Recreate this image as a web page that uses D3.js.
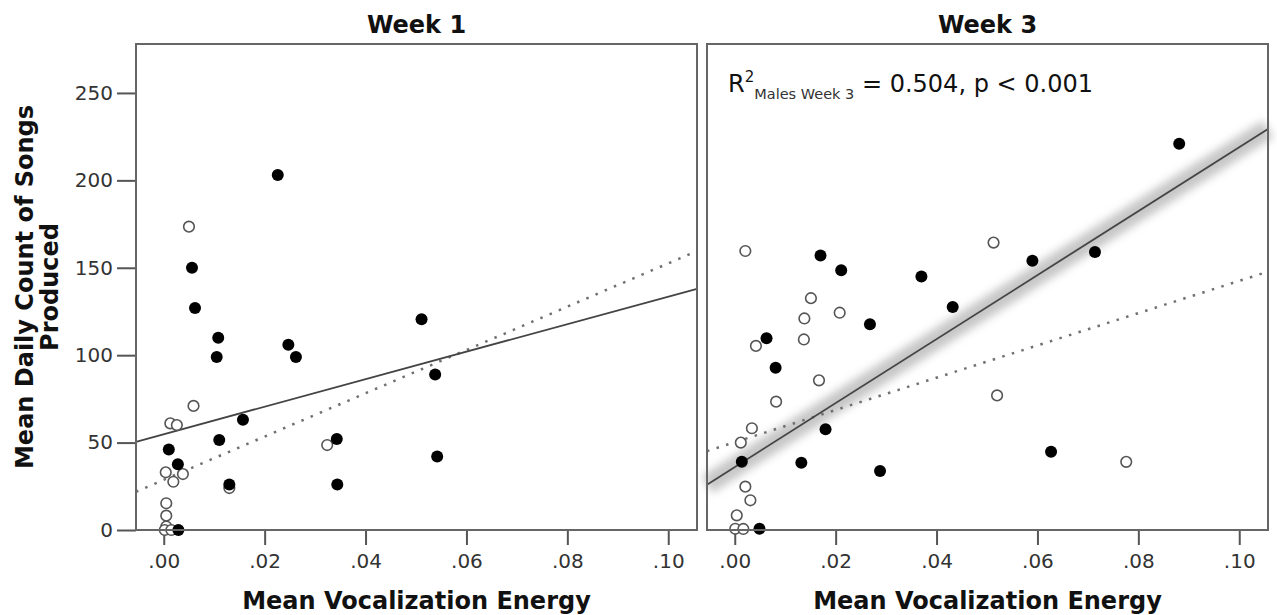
<!DOCTYPE html>
<html>
<head>
<meta charset="utf-8">
<script src="https://cdn.jsdelivr.net/npm/d3@7"></script>
<style>
  body { margin: 0; background: #fff; }
  svg { display: block; }
</style>
</head>
<body>
<svg id="chart" width="1277" height="615"></svg>
<script>
// panel titles
const weeks = ["Week 1", "Week 3"];
const xTicks = [0, 0.02, 0.04, 0.06, 0.08, 0.10];
const yTicks = [0, 50, 100, 150, 200, 250];

// Week 1 males (filled) [energy, songs]
const week1Males = [
  [0.0226, 203], [0.0056, 150], [0.0062, 127], [0.0108, 110], [0.0105, 99],
  [0.0247, 106], [0.0262, 99], [0.0511, 120.5], [0.0538, 89], [0.0542, 42],
  [0.0157, 63], [0.0110, 51.5], [0.0343, 52], [0.0344, 26], [0.0010, 46],
  [0.0028, 37.6], [0.0029, 0], [0.0130, 26]
];
// Week 1 females (open)
const week1Females = [
  [0.0050, 173.5], [0.0059, 71], [0.0013, 61], [0.0026, 60], [0.0004, 33],
  [0.0019, 27.6], [0.0038, 32], [0.0130, 24], [0.0324, 48.6], [0.0005, 15.3],
  [0.0005, 8.2], [0.0005, 2], [0.0002, 0], [0.0015, 0]
];
// Week 3 males (filled)
const week3Males = [
  [0.0170, 157], [0.0211, 148.6], [0.0370, 145], [0.0432, 127.6], [0.0268, 117.7],
  [0.0063, 109.7], [0.0081, 92.8], [0.0180, 57.6], [0.0014, 39], [0.0132, 38.5],
  [0.0288, 33.8], [0.0049, 0.7], [0.0881, 221], [0.0590, 154], [0.0714, 159],
  [0.0627, 44.8]
];
// Week 3 females (open)
const week3Females = [
  [0.0021, 159.6], [0.0513, 164.4], [0.0151, 132.6], [0.0138, 121], [0.0208, 124.3],
  [0.0137, 109], [0.0042, 105.3], [0.0167, 85.6], [0.0082, 73.4], [0.0034, 58.2],
  [0.0012, 50], [0.0021, 24.8], [0.0031, 17], [0.0004, 8.4], [0.0001, 0.7],
  [0.0017, 0.6], [0.0520, 77], [0.0776, 39]
];
// fit lines [intercept, slope]
const fitMales = [[54.8, 787], [36, 1830]];
const fitFemales = [[28.7, 1238], [50.2, 923]];

const svg = d3.select("#chart");
const plotTop = 44, plotBottom = 530;
const panels = [[136, 697], [707, 1268]];
const males = [week1Males, week3Males];
const females = [week1Females, week3Females];

const y = d3.scaleLinear().domain([0, 278]).range([plotBottom, plotTop]);
const xDomain = [-0.0055, 0.1057];

const defs = svg.append("defs");
defs.append("filter").attr("id", "blur")
  .attr("x", "-10%").attr("y", "-10%").attr("width", "120%").attr("height", "120%")
  .append("feGaussianBlur").attr("stdDeviation", 4.5);

const fmt = d => d3.format(".2f")(d).replace(/^0/, "");
const font = "DejaVu Sans, Verdana, sans-serif";

panels.forEach(([x0, x1], i) => {
  const x = d3.scaleLinear().domain(xDomain).range([x0, x1]);
  const g = svg.append("g");

  // x axis
  const xa = g.append("g").attr("transform", `translate(0,${plotBottom})`)
    .call(d3.axisBottom(x).tickValues(xTicks).tickFormat(fmt).tickSize(15).tickPadding(9));
  xa.select(".domain").remove();
  xa.selectAll("line").attr("stroke", "#555").attr("stroke-width", 2);
  xa.selectAll("text").attr("font-family", font)
    .attr("font-size", 20).attr("fill", "#333");

  if (i === 0) {
    const ya = g.append("g").attr("transform", `translate(${x0},0)`)
      .call(d3.axisLeft(y).tickValues(yTicks).tickSize(19).tickPadding(4));
    ya.select(".domain").remove();
    ya.selectAll("line").attr("stroke", "#555").attr("stroke-width", 2);
    ya.selectAll("text").attr("font-family", font)
      .attr("font-size", 20).attr("fill", "#333");
  }

  const fitPath = ([b, m]) => d3.line()
    .x(d => x(d)).y(d => y(b + m * d))(xDomain);

  // confidence band (week 3 males only)
  if (i === 1) {
    g.append("path").attr("d", fitPath(fitMales[i]))
      .attr("stroke", "#b4b4b4").attr("stroke-width", 20).attr("fill", "none")
      .attr("opacity", 0.75).attr("filter", "url(#blur)");
  }

  g.append("path").attr("d", fitPath(fitFemales[i]))
    .attr("stroke", "#707070").attr("stroke-width", 2.5).attr("fill", "none")
    .attr("stroke-dasharray", "2.5,7.5").attr("stroke-linecap", "butt");
  g.append("path").attr("d", fitPath(fitMales[i]))
    .attr("stroke", "#444").attr("stroke-width", 1.8).attr("fill", "none");

  g.selectAll(".f").data(females[i]).enter().append("circle")
    .attr("cx", d => x(d[0])).attr("cy", d => y(d[1])).attr("r", 5.3)
    .attr("fill", "#fff").attr("stroke", "#555").attr("stroke-width", 1.6);
  g.selectAll(".m").data(males[i]).enter().append("circle")
    .attr("cx", d => x(d[0])).attr("cy", d => y(d[1])).attr("r", 6)
    .attr("fill", "#000");

  // frame
  g.append("rect").attr("x", x0).attr("y", plotTop)
    .attr("width", x1 - x0).attr("height", plotBottom - plotTop)
    .attr("fill", "none").attr("stroke", "#666").attr("stroke-width", 2);

  // title
  svg.append("text").attr("x", (x0 + x1) / 2).attr("y", 33)
    .attr("text-anchor", "middle").attr("font-family", font)
    .attr("font-weight", "bold").attr("font-size", 24).attr("fill", "#111")
    .text(weeks[i]);

  // x label
  svg.append("text").attr("x", (x0 + x1) / 2).attr("y", 609)
    .attr("text-anchor", "middle").attr("font-family", font)
    .attr("font-weight", "bold").attr("font-size", 24).attr("fill", "#111")
    .text("Mean Vocalization Energy");
});

// y label
const yl = svg.append("text")
  .attr("transform", `translate(0,${(plotTop + plotBottom) / 2}) rotate(-90)`)
  .attr("text-anchor", "middle").attr("font-family", font)
  .attr("font-weight", "bold").attr("font-size", 24).attr("fill", "#111");
yl.append("tspan").attr("x", 0).attr("y", 33).text("Mean Daily Count of Songs");
yl.append("tspan").attr("x", 0).attr("y", 58).text("Produced");

// annotation
const ann = svg.append("text").attr("x", 728).attr("y", 92)
  .attr("font-family", font).attr("font-size", 24).attr("fill", "#111");
ann.append("tspan").text("R");
ann.append("tspan").attr("dy", -10).attr("font-size", 15).text("2");
ann.append("tspan").attr("dy", 17).attr("font-size", 14.5).attr("fill", "#333").text("Males Week 3");
ann.append("tspan").attr("dy", -7).text(" = 0.504, p < 0.001");
</script>
</body>
</html>
